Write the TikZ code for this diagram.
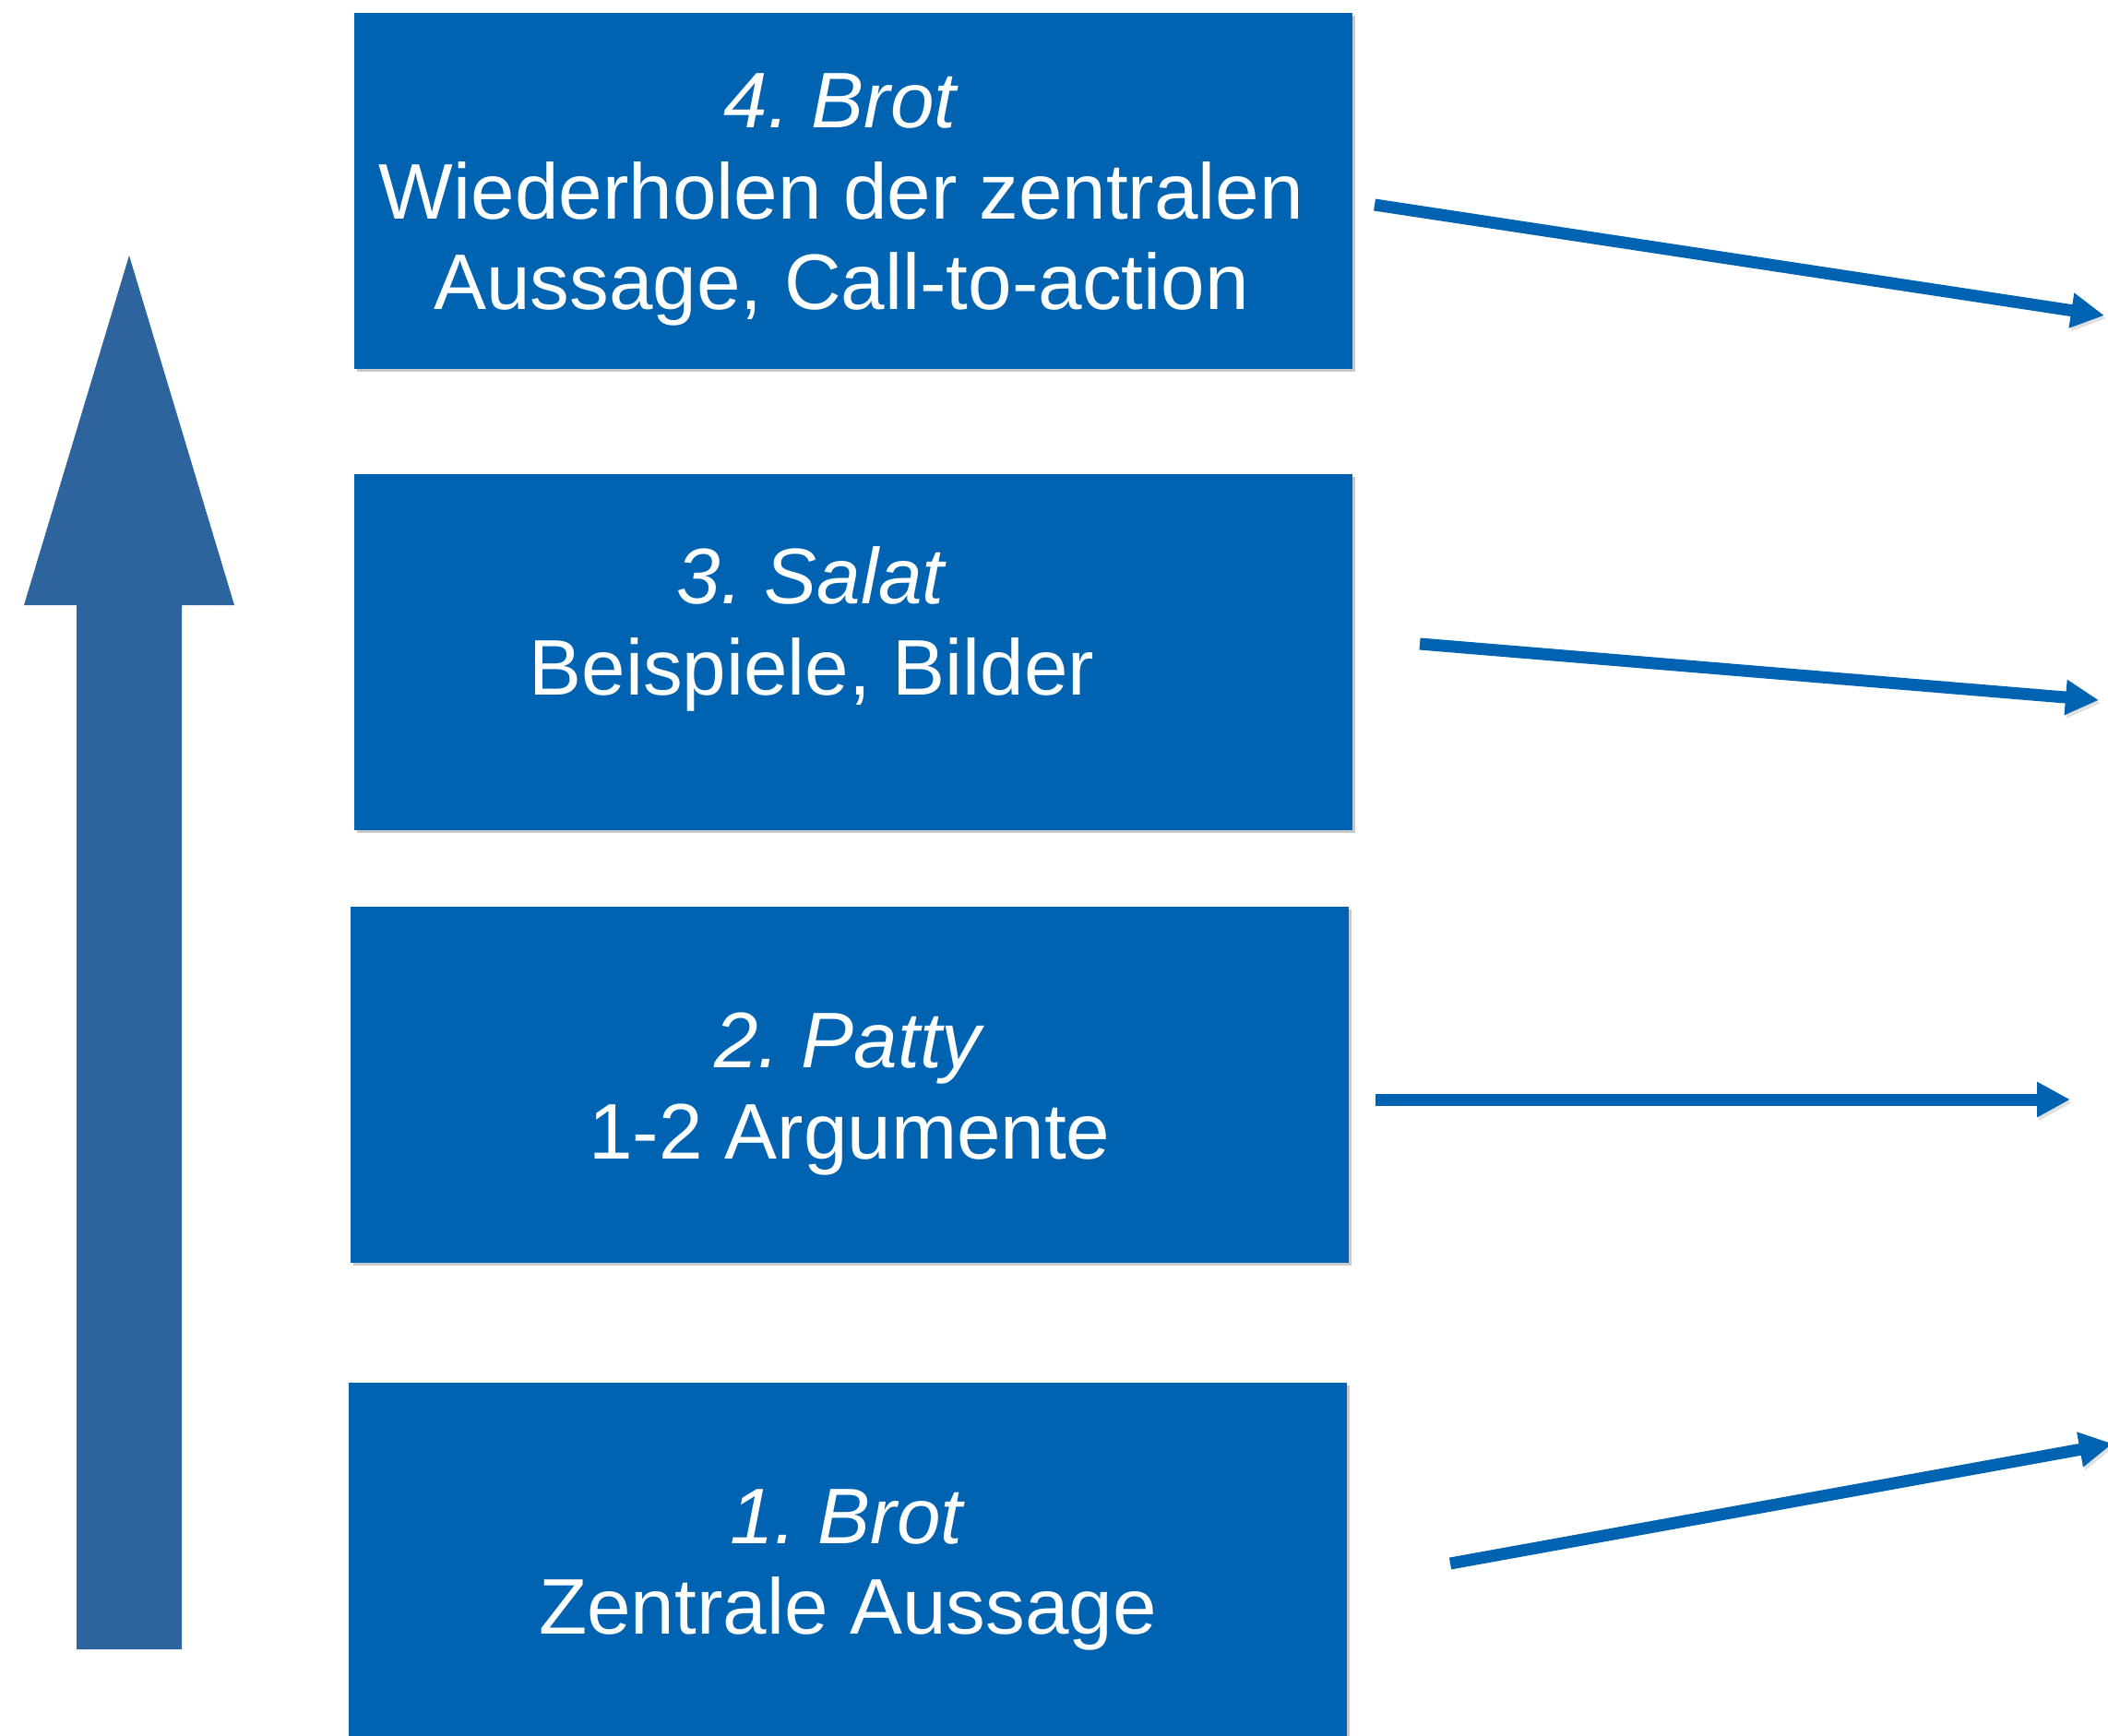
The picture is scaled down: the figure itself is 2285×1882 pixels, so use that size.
\documentclass[tikz,border=0pt]{standalone}
\usepackage{fontspec}
\setmainfont{Liberation Sans}
\usetikzlibrary{arrows.meta,shadows}
\definecolor{kastenblau}{RGB}{0,99,178}
\definecolor{pfeilblau}{RGB}{46,100,158}
\frenchspacing
\begin{document}
\begin{tikzpicture}[x=0.01cm, y=-0.01cm,
	kasten/.style={fill=kastenblau, inner sep=0, anchor=north west,
		minimum width=10.82cm, minimum height=3.86cm,
		drop shadow={shadow xshift=0.8pt, shadow yshift=-0.8pt, opacity=0.3, fill=black!70}},
	schrift/.style={text=white, align=center, inner sep=0, yshift=-0.1cm,
		font=\fontsize{24.3}{28}\selectfont},
	pfeil/.style={draw=kastenblau, line width=0.13cm,
		-{Triangle[length=0.36cm, width=0.36cm]},
		preaction={draw=black!60, opacity=0.2, transform canvas={shift={(0.6pt,-1pt)}}}}]
	\useasboundingbox (0,0) rectangle (2285,1882);
	
	% grosser Pfeil links
	\fill[pfeilblau] (83,1788) -- (83,656) -- (26,656) -- (140,277)
		-- (254,656) -- (197,656) -- (197,1788) -- cycle;
	
	\node[kasten] (B4) at (383,13) {};
	\node[kasten] (S3) at (383,513) {};
	\node[kasten] (P2) at (379,982) {};
	\node[kasten] (B1) at (377,1498) {};
	
	\node[schrift] (T4) at ([xshift=-0.13cm]B4.center) {\textit{4. Brot}\\Wiederholen der zentralen\\Aussage, Call-to-action};
	\node[schrift] (T3) at ([shift={(-45,-35)}]S3.center) {\textit{3. Salat}\\Beispiele, Bilder};
	\node[schrift] (T2) at (P2.center) {\textit{2. Patty}\\1-2 Argumente};
	\node[schrift] (T1) at (B1.center) {\textit{1. Brot}\\Zentrale Aussage};
	
	\coordinate (a4) at (1490,222);
	\coordinate (z4) at (2281,342);
	\coordinate (a3) at (1539,698);
	\coordinate (z3) at (2275,759);
	\coordinate (a2) at (1491,1192);
	\coordinate (z2) at (2244,1192);
	\coordinate (a1) at (1572,1695);
	\coordinate (z1) at (2290,1565);
	
	\draw[pfeil] (a4) -- (z4);
	\draw[pfeil] (a3) -- (z3);
	\draw[pfeil] (a2) -- (z2);
	\draw[pfeil] (a1) -- (z1);
	
\end{tikzpicture}
\end{document}
